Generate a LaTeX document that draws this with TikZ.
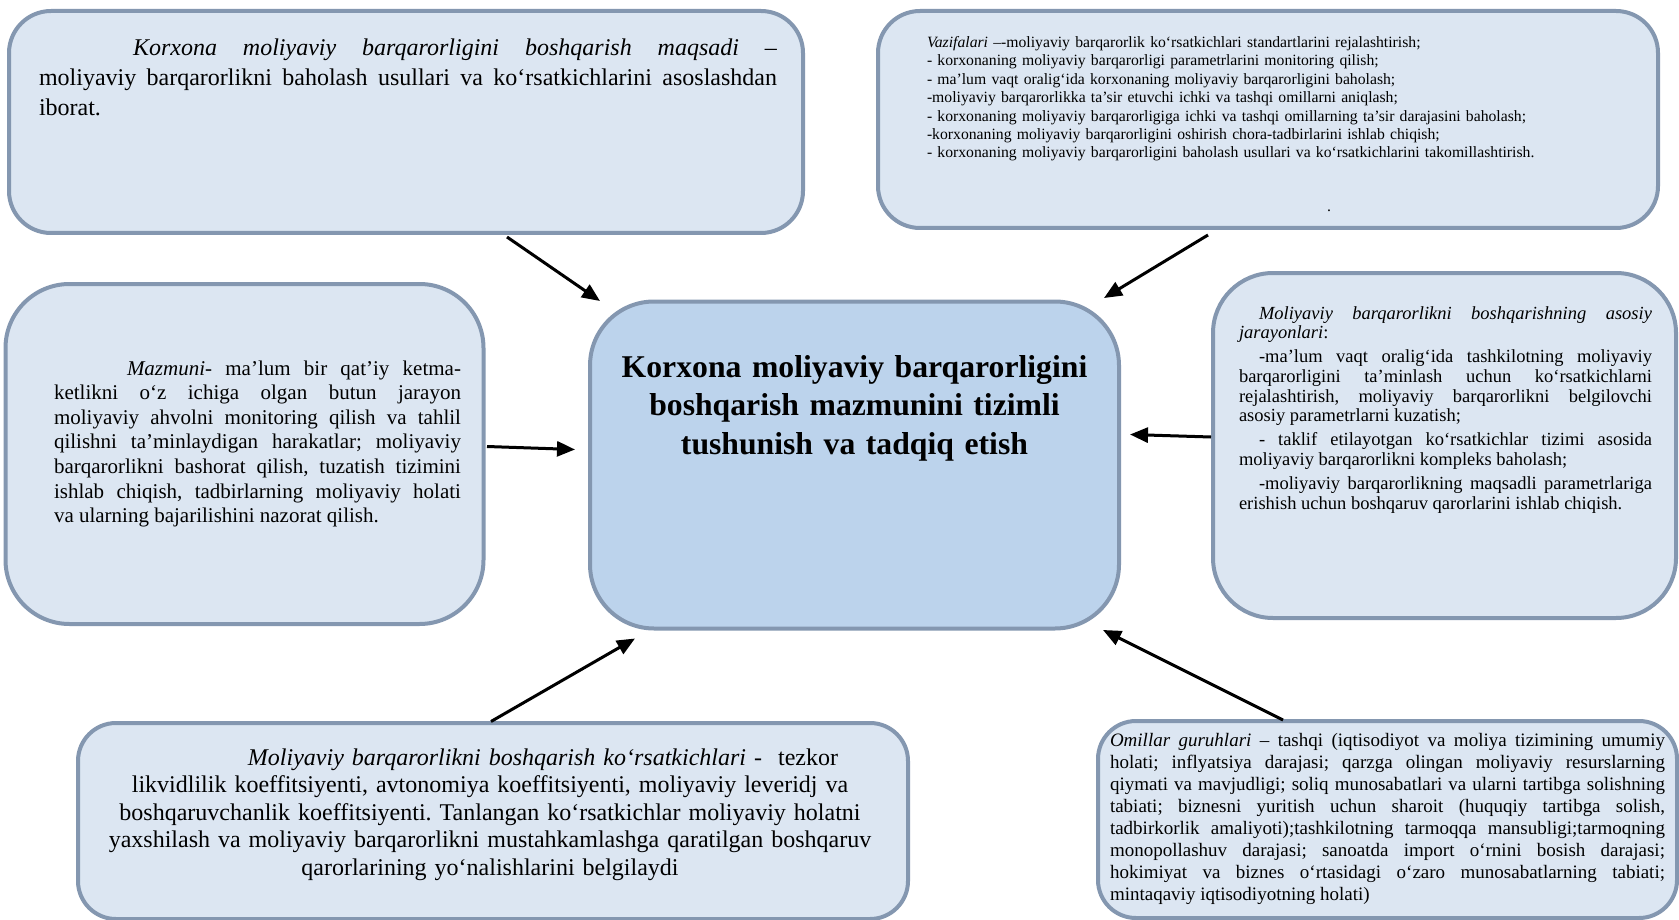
\documentclass[tikz,border=0pt]{standalone}
\usepackage{fontspec}
\setmainfont{Liberation Serif}
\usetikzlibrary{arrows.meta}
\definecolor{panelfill}{HTML}{DCE6F2}
\definecolor{corefill}{HTML}{BCD3EC}
\definecolor{panelline}{HTML}{8497B0}
\newcommand\fsz[2]{\fontsize{#1}{#2}\selectfont}
\frenchspacing
\tikzset{
  panel/.style={draw=panelline, line width=4pt, fill=panelfill, rounded corners=#1, inner sep=0pt},
  panel/.default=40pt,
  txt/.style={inner sep=0pt, outer sep=0pt, anchor=base west},
  arr/.style={line width=3pt, -{Triangle[length=18pt,width=15pt]}},
}
\begin{document}
\begin{tikzpicture}[x=1pt,y=-1pt]
\useasboundingbox (0,0) rectangle (1679,920);
\fill[white] (0,0) rectangle (1679,920);

% panels
\node[panel=42pt, minimum width=794pt, minimum height=222pt] (goal) at (406,122) {};
\node[panel=42pt, minimum width=780pt, minimum height=217pt] (tasks) at (1268,119.5) {};
\node[panel=64pt, minimum width=478pt, minimum height=340pt] (content) at (244.5,454) {};
\node[panel=64pt, fill=corefill, minimum width=529pt, minimum height=327pt] (core) at (854.5,465) {};
\node[panel=60pt, minimum width=463pt, minimum height=345pt] (steps) at (1444.5,445.5) {};
\node[panel=38pt, minimum width=830pt, minimum height=196pt] (indic) at (493,821) {};
\node[panel=38pt, minimum width=579pt, minimum height=197pt] (factors) at (1387.5,819.5) {};

% texts
\node[txt, text width=738pt, align=justify, font=\fsz{24}{30}] (goaltxt) at (39,56)
{\hspace*{94pt}\textit{Korxona moliyaviy barqarorligini boshqarish maqsadi} –\linebreak
moliyaviy barqarorlikni baholash usullari va ko‘rsatkichlarini asoslashdan\linebreak
iborat.};

\node[txt, text width=640pt, align=left, font=\fsz{15.7}{18.4}] (taskstxt) at (927,47.5)
{\textit{Vazifalari} –-moliyaviy barqarorlik ko‘rsatkichlari standartlarini rejalashtirish;\\
- korxonaning moliyaviy barqarorligi parametrlarini monitoring qilish;\\
- ma’lum vaqt oralig‘ida korxonaning moliyaviy barqarorligini baholash;\\
-moliyaviy barqarorlikka ta’sir etuvchi ichki va tashqi omillarni aniqlash;\\
- korxonaning moliyaviy barqarorligiga ichki va tashqi omillarning ta’sir darajasini baholash;\\
-korxonaning moliyaviy barqarorligini oshirish chora-tadbirlarini ishlab chiqish;\\
- korxonaning moliyaviy barqarorligini baholash usullari va ko‘rsatkichlarini takomillashtirish.};
\node[txt, anchor=base, font=\fsz{15.7}{18.4}] (tasksdot) at (1329,212) {.};

\node[txt, text width=407pt, align=justify, font=\fsz{21}{24.6}] (contenttxt) at (54,375)
{\hspace*{73pt}\textit{Mazmuni}- ma’lum bir qat’iy ketma-\linebreak
ketlikni o‘z ichiga olgan butun jarayon\linebreak
moliyaviy ahvolni monitoring qilish va tahlil\linebreak
qilishni ta’minlaydigan harakatlar; moliyaviy\linebreak
barqarorlikni bashorat qilish, tuzatish tizimini\linebreak
ishlab chiqish, tadbirlarning moliyaviy holati\linebreak
va ularning bajarilishini nazorat qilish.};

\node[txt, anchor=base, text width=500pt, align=center, font=\bfseries\fsz{31.7}{38.5}] (coretxt) at (854.5,377)
{Korxona moliyaviy barqarorligini\\ boshqarish mazmunini tizimli\\ tushunish va tadqiq etish};

\node[txt, text width=413pt, align=justify, font=\fsz{18.5}{19.6}] (stepstxt) at (1239,319)
{\hspace*{20pt}\textit{Moliyaviy barqarorlikni boshqarishning asosiy}\linebreak
\textit{jarayonlari}:\\[4.6pt]
\hspace*{20pt}-ma’lum vaqt oralig‘ida tashkilotning moliyaviy\linebreak
barqarorligini ta’minlash uchun ko‘rsatkichlarni\linebreak
rejalashtirish, moliyaviy barqarorlikni belgilovchi\linebreak
asosiy parametrlarni kuzatish;\\[4.6pt]
\hspace*{20pt}- taklif etilayotgan ko‘rsatkichlar tizimi asosida\linebreak
moliyaviy barqarorlikni kompleks baholash;\\[4.6pt]
\hspace*{20pt}-moliyaviy barqarorlikning maqsadli parametrlariga\linebreak
erishish uchun boshqaruv qarorlarini ishlab chiqish.};

\node[txt, anchor=base, text width=820pt, align=center, font=\fsz{24}{27.5}] (indictxt) at (490,765)
{\hspace*{106pt}\textit{Moliyaviy barqarorlikni boshqarish ko‘rsatkichlari} -\ \ tezkor\\
likvidlilik koeffitsiyenti, avtonomiya koeffitsiyenti, moliyaviy leveridj va\\
boshqaruvchanlik koeffitsiyenti. Tanlangan ko‘rsatkichlar moliyaviy holatni\\
yaxshilash va moliyaviy barqarorlikni mustahkamlashga qaratilgan boshqaruv\\
qarorlarining yo‘nalishlarini belgilaydi};

\node[txt, text width=555pt, align=justify, font=\fsz{19}{22}] (factorstxt) at (1110,746.5)
{\textit{Omillar guruhlari} – tashqi (iqtisodiyot va moliya tizimining umumiy\linebreak
holati; inflyatsiya darajasi; qarzga olingan moliyaviy resurslarning\linebreak
qiymati va mavjudligi; soliq munosabatlari va ularni tartibga solishning\linebreak
tabiati; biznesni yuritish uchun sharoit (huquqiy tartibga solish,\linebreak
tadbirkorlik amaliyoti);tashkilotning tarmoqqa mansubligi;tarmoqning\linebreak
monopollashuv darajasi; sanoatda import o‘rnini bosish darajasi;\linebreak
hokimiyat va biznes o‘rtasidagi o‘zaro munosabatlarning tabiati;\linebreak
mintaqaviy iqtisodiyotning holati)};

% connector ends
\coordinate (goal-out) at (507,237);
\coordinate (core-in-nw) at (600,301);
\coordinate (tasks-out) at (1208,235);
\coordinate (core-in-ne) at (1104,298);
\coordinate (content-out) at (487,446.5);
\coordinate (core-in-w) at (575,449.5);
\coordinate (steps-out) at (1211,437);
\coordinate (core-in-e) at (1130,434.5);
\coordinate (indic-out) at (491,721.5);
\coordinate (core-in-sw) at (635,638.5);
\coordinate (factors-out) at (1283,720);
\coordinate (core-in-se) at (1103,630);

\draw[arr] (goal-out) -- (core-in-nw);
\draw[arr] (tasks-out) -- (core-in-ne);
\draw[arr] (content-out) -- (core-in-w);
\draw[arr] (steps-out) -- (core-in-e);
\draw[arr] (indic-out) -- (core-in-sw);
\draw[arr] (factors-out) -- (core-in-se);
\end{tikzpicture}
\end{document}
